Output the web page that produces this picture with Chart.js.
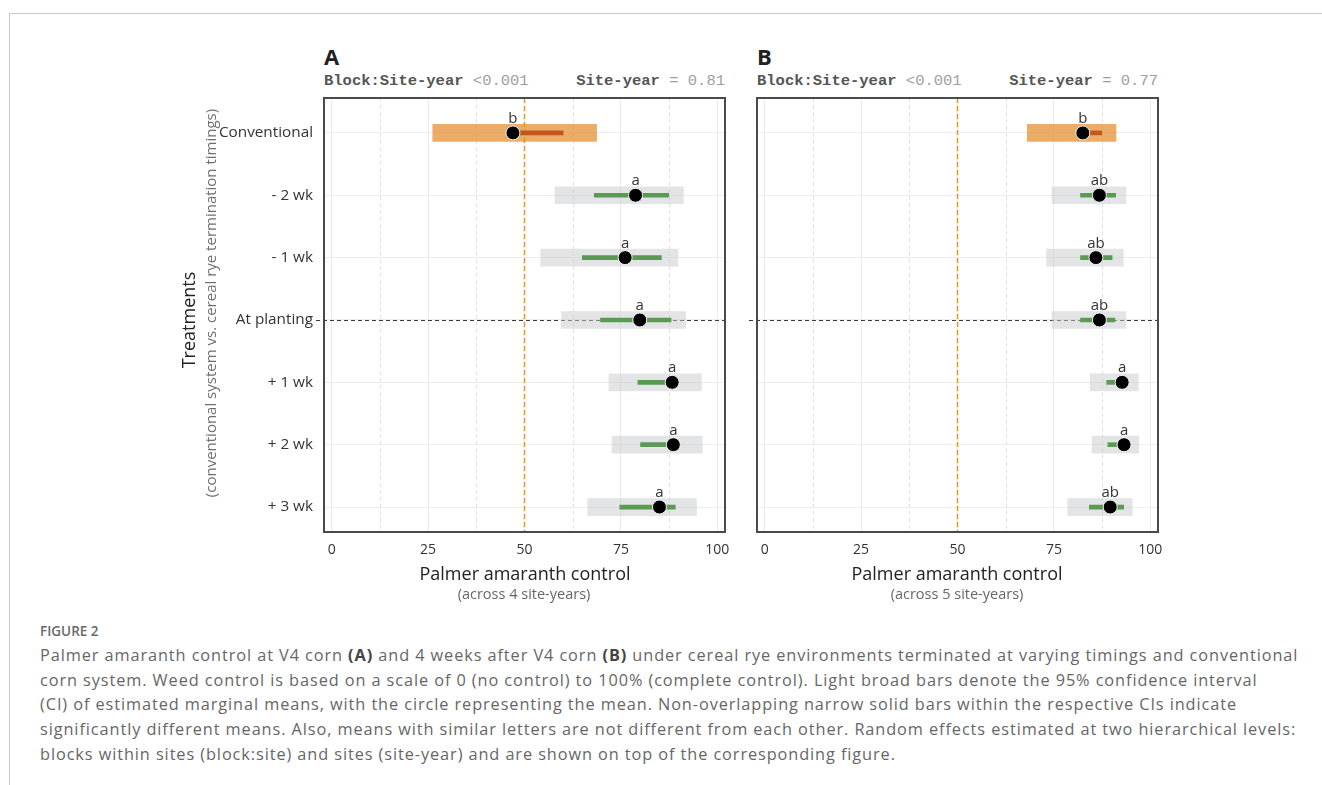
<!DOCTYPE html>
<html lang="en">
<head>
<meta charset="UTF-8">
<title>Figure 2</title>
<script src="https://cdn.jsdelivr.net/npm/chart.js@4.4.0/dist/chart.umd.min.js"></script>
<style>
  body { margin: 0; background: #fff; }
  #page { position: relative; width: 1322px; height: 785px; overflow: hidden; font-family: "Open Sans", sans-serif; }
  #frame { position: absolute; left: 9px; top: 13px; width: 1320px; height: 780px; border-top: 1px solid #c8c8c8; border-left: 1px solid #c8c8c8; }
  canvas { position: absolute; }
  .t { position: absolute; white-space: nowrap; line-height: 1; }
  .c { transform: translate(-50%, -50%); }
  .panel { font-weight: 700; font-size: 22px; color: #222; }
  .re { font-family: "Liberation Mono", monospace; font-size: 15.5px; color: #a0a0a0; transform: translateY(-50%); }
  .re b { color: #555; }
  .xt { font-size: 18px; color: #222; }
  .xs { font-size: 14.5px; color: #666; }
  #caption { position: absolute; left: 40px; top: 622px; font-family: "Open Sans", sans-serif; color: #666; }
  #caption .fig { font-size: 13.5px; font-weight: 600; color: #6a6a6a; height: 21px; }
  #caption .body { font-size: 16.3px; letter-spacing: 0.92px; line-height: 24.7px; white-space: nowrap; }
  #caption .body b { color: #444; font-weight: 700; }
</style>
</head>
<body>
<div id="page">
  <div id="frame"></div>

  <div class="t panel" style="left:324px; top:45px;">A</div>
  <div class="t re" style="left:324px; top:82px;"><b>Block:Site-year</b> &lt;0.001</div>
  <div class="t re" style="right:597px; top:82px;"><b>Site-year</b> = 0.81</div>

  <div class="t panel" style="left:757px; top:45px;">B</div>
  <div class="t re" style="left:757px; top:82px;"><b>Block:Site-year</b> &lt;0.001</div>
  <div class="t re" style="right:164px; top:82px;"><b>Site-year</b> = 0.77</div>

  <canvas id="chartA" width="570" height="480" style="left:170px; top:90px;"></canvas>
  <canvas id="chartB" width="430" height="480" style="left:745px; top:90px;"></canvas>

  <div class="t c" style="left:188px; top:320px; font-size:18px; color:#222; transform:translate(-50%,-50%) rotate(-90deg);">Treatments</div>
  <div class="t c" style="left:210px; top:303px; font-size:15px; color:#6f6f6f; transform:translate(-50%,-50%) rotate(-90deg);">(conventional system vs. cereal rye termination timings)</div>

  <div class="t c xt" style="left:525px; top:573px;">Palmer amaranth control</div>
  <div class="t c xs" style="left:524px; top:594px;">(across 4 site-years)</div>
  <div class="t c xt" style="left:957px; top:573px;">Palmer amaranth control</div>
  <div class="t c xs" style="left:957px; top:594px;">(across 5 site-years)</div>

  <div id="caption">
    <div class="fig">FIGURE 2</div>
    <div class="body">
      Palmer amaranth control at V4 corn <b>(A)</b> and 4 weeks after V4 corn <b>(B)</b> under cereal rye environments terminated at varying timings and conventional<br>
      corn system. Weed control is based on a scale of 0 (no control) to 100% (complete control). Light broad bars denote the 95% confidence interval<br>
      (CI) of estimated marginal means, with the circle representing the mean. Non-overlapping narrow solid bars within the respective CIs indicate<br>
      significantly different means. Also, means with similar letters are not different from each other. Random effects estimated at two hierarchical levels:<br>
      blocks within sites (block:site) and sites (site-year) and are shown on top of the corresponding figure.
    </div>
  </div>
</div>

<script>
const treatments = ['Conventional', '- 2 wk', '- 1 wk', 'At planting', '+ 1 wk', '+ 2 wk', '+ 3 wk'];
const xTicks = [0, 25, 50, 75, 100];
const xMinorTicks = [12.5, 37.5, 62.5, 87.5];

// panel A: V4 corn
const meanA = [47.0, 78.8, 76.1, 79.9, 88.3, 88.6, 85.0];
const ciLowA = [26.2, 57.9, 54.2, 59.6, 71.9, 72.7, 66.4];
const ciHighA = [68.7, 91.2, 89.8, 91.8, 95.9, 96.1, 94.6];
const cmpLowA = [46.0, 68.1, 65.0, 69.7, 79.4, 80.1, 74.7];
const cmpHighA = [60.0, 87.4, 85.5, 88.0, 89.0, 89.5, 89.1];
const lettersA = ['b', 'a', 'a', 'a', 'a', 'a', 'a'];

// panel B: 4 weeks after V4 corn
const meanB = [82.5, 86.8, 85.9, 86.8, 92.7, 93.2, 89.6];
const ciLowB = [68.1, 74.5, 73.1, 74.5, 84.4, 84.9, 78.6];
const ciHighB = [91.1, 93.7, 93.0, 93.7, 96.9, 97.0, 95.3];
const cmpLowB = [82.0, 81.9, 81.9, 81.9, 88.7, 89.0, 84.2];
const cmpHighB = [87.4, 91.0, 90.1, 90.8, 93.4, 93.9, 93.1];
const lettersB = ['b', 'ab', 'ab', 'ab', 'a', 'a', 'ab'];

const referenceLine = 50;
const dashedRow = 4; // "At planting"

const decor = {
  id: 'decor',
  beforeDatasetsDraw(chart) {
    const { ctx, chartArea: a, scales: { x, y } } = chart;
    ctx.save();
    ctx.lineWidth = 1;
    // minor vertical grid (dashed)
    ctx.strokeStyle = '#e2e2e2';
    ctx.setLineDash([4, 3]);
    xMinorTicks.forEach(v => {
      const px = Math.round(x.getPixelForValue(v)) + 0.5;
      ctx.beginPath(); ctx.moveTo(px, a.top); ctx.lineTo(px, a.bottom); ctx.stroke();
    });
    // dashed line across "At planting"
    ctx.strokeStyle = '#3a3a3a';
    ctx.setLineDash([4, 3]);
    const py = Math.round(y.getPixelForValue(dashedRow)) + 0.5;
    ctx.beginPath(); ctx.moveTo(a.left - 8, py); ctx.lineTo(a.right, py); ctx.stroke();
    // 50% reference line
    ctx.strokeStyle = '#d9a21e';
    ctx.lineWidth = 1.6;
    ctx.setLineDash([5, 3]);
    const rx = x.getPixelForValue(referenceLine);
    ctx.beginPath(); ctx.moveTo(rx, a.top); ctx.lineTo(rx, a.bottom); ctx.stroke();
    ctx.restore();
  },
  afterDatasetsDraw(chart, args, opts) {
    const { ctx, chartArea: a, scales: { x, y } } = chart;
    ctx.save();
    ctx.font = '15px "Open Sans"';
    ctx.fillStyle = '#333';
    ctx.textAlign = 'center';
    ctx.textBaseline = 'alphabetic';
    opts.letters.forEach((l, i) => {
      ctx.fillText(l, x.getPixelForValue(opts.means[i]), y.getPixelForValue(i + 1) - 10);
    });
    // treatment labels on the y axis
    if (opts.showLabels) {
      ctx.font = '15.3px "Open Sans"';
      ctx.textAlign = 'right';
      ctx.textBaseline = 'middle';
      treatments.forEach((t, i) => ctx.fillText(t, a.left - 11, y.getPixelForValue(i + 1)));
    }
    ctx.restore();
  },
  afterDraw(chart) {
    const { ctx, chartArea: a } = chart;
    ctx.save();
    ctx.strokeStyle = '#4a4a4a';
    ctx.lineWidth = 2;
    ctx.strokeRect(a.left, a.top, a.right - a.left, a.bottom - a.top);
    ctx.restore();
  }
};

function makeChart(id, mean, ciLow, ciHigh, cmpLow, cmpHigh, letters, yWidth, padRight, showLabels) {
  const rows = mean.map((m, i) => i + 1);
  const wide = rows.map((r, i) => ({ x: [ciLow[i], ciHigh[i]], y: r }));
  const narrow = rows.map((r, i) => ({ x: [cmpLow[i], cmpHigh[i]], y: r }));
  const pts = rows.map((r, i) => ({ x: mean[i], y: r }));
  const isConv = i => i === 0;

  return new Chart(document.getElementById(id), {
    type: 'bar',
    data: {
      datasets: [
        {
          type: 'bar', indexAxis: 'y', grouped: false, order: 3,
          data: wide, barThickness: 17, borderWidth: 0,
          backgroundColor: rows.map((r, i) => isConv(i) ? 'rgba(227,140,46,0.72)' : 'rgba(199,201,204,0.5)')
        },
        {
          type: 'bar', indexAxis: 'y', grouped: false, order: 2,
          data: narrow, barThickness: 4, borderWidth: 0,
          backgroundColor: rows.map((r, i) => isConv(i) ? '#c2561c' : '#5a9a52')
        },
        {
          type: 'scatter', order: 1, data: pts,
          pointRadius: 7, pointBackgroundColor: '#000', pointBorderColor: '#f4f4f4', pointBorderWidth: 1
        }
      ]
    },
    options: {
      responsive: false,
      animation: false,
      devicePixelRatio: 1,
      layout: { padding: { top: 8, right: padRight, left: 0, bottom: 0 } },
      plugins: {
        legend: { display: false },
        tooltip: { enabled: false },
        decor: { letters: letters, means: mean, showLabels: showLabels }
      },
      scales: {
        x: {
          type: 'linear', min: -2, max: 102, offset: false,
          afterBuildTicks: s => { s.ticks = xTicks.map(v => ({ value: v })); },
          afterFit: s => { s.height = 38; },
          grid: { color: '#ebebeb', drawTicks: false, offset: false },
          border: { display: false },
          ticks: { padding: 10, color: '#333', font: { family: 'Open Sans', size: 14 }, maxRotation: 0, autoSkip: false }
        },
        y: {
          type: 'linear', reverse: true, min: 0.44, max: 7.4, offset: false, beginAtZero: false,
          afterBuildTicks: s => { s.ticks = rows.map(v => ({ value: v })); },
          afterFit: s => { s.width = yWidth; },
          grid: { color: '#ededed', drawTicks: false, offset: false },
          border: { display: false },
          ticks: { display: false }
        }
      }
    },
    plugins: [decor]
  });
}

makeChart('chartA', meanA, ciLowA, ciHighA, cmpLowA, cmpHighA, lettersA, 154, 15, true);
makeChart('chartB', meanB, ciLowB, ciHighB, cmpLowB, cmpHighB, lettersB, 12, 17, false);
</script>
</body>
</html>
